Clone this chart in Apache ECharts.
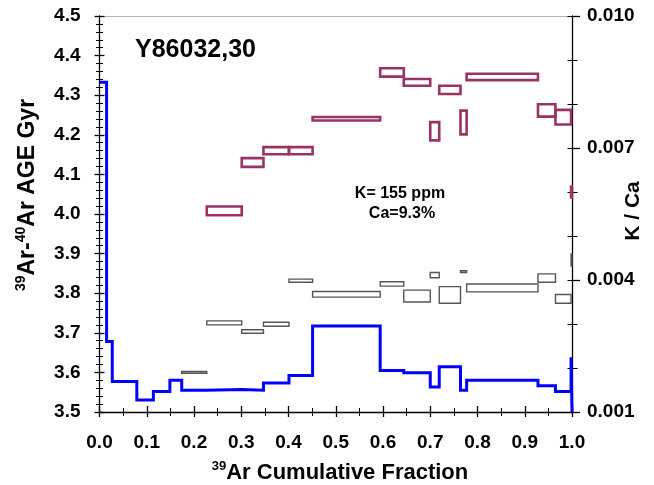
<!DOCTYPE html>
<html>
<head>
<meta charset="utf-8">
<title>Y86032,30 Ar-Ar age spectrum</title>
<script src="https://cdn.jsdelivr.net/npm/echarts@6/dist/echarts.min.js"></script>
<style>
  html, body { margin: 0; padding: 0; background: #fff; }
  #chart { width: 654px; height: 485px; }
</style>
</head>
<body>
<div id="chart"></div>
<script>
// Cumulative 39Ar fraction at the edge of each heating step
const fractionEdges = [0, 0.015, 0.027, 0.079, 0.114, 0.149, 0.174, 0.227, 0.301, 0.347, 0.401,
  0.451, 0.594, 0.644, 0.700, 0.719, 0.764, 0.777, 0.928, 0.965, 0.998, 1.0];

// 39Ar-40Ar apparent age of each step (Gyr)
const stepAge = [4.333, 3.678, 3.577, 3.530, 3.552, 3.580, 3.555, 3.557, 3.555, 3.573, 3.592,
  3.717, 3.605, 3.599, 3.563, 3.614, 3.555, 3.580, 3.566, 3.552, 3.638];

// Second age set, drawn as error boxes (Gyr): lower and upper bound per step
const boxAgeLow = [null, null, null, null, null, null, null, 3.997, 4.119, 4.151, 4.151,
  4.236, 4.347, 4.324, 4.186, 4.303, 4.201, 4.338, 4.246, 4.226, 4.042];
const boxAgeHigh = [null, null, null, null, null, null, null, 4.019, 4.141, 4.169, 4.169,
  4.245, 4.368, 4.341, 4.232, 4.324, 4.261, 4.354, 4.277, 4.263, 4.069];

// K/Ca ratio per step: lower and upper bound
const kcaLow = [null, null, null, null, null, null, 0.00188, 0.00298, 0.00279, 0.00295, 0.00395,
  0.00361, 0.00386, 0.00350, 0.00405, 0.00347, 0.00417, 0.00373, 0.00395, 0.00347, 0.00432];
const kcaHigh = [null, null, null, null, null, null, 0.00192, 0.00307, 0.00287, 0.00304, 0.00402,
  0.00374, 0.00396, 0.00377, 0.00417, 0.00385, 0.00421, 0.00391, 0.00414, 0.00367, 0.00459];

// Axis ranges and labelled ticks
const ageMin = 3.5, ageMax = 4.5, ageStep = 0.1;
const kcaMin = 0.001, kcaMax = 0.010, kcaMinorStep = 0.001;
const kcaTicks = [0.001, 0.004, 0.007, 0.010];

const FONT = 'Liberation Sans, Arial, Helvetica, sans-serif';

// Step-shaped age spectrum: each step is a flat segment across its fraction range,
// closed down to the axis floor after the last step
const spectrum = [];
stepAge.forEach((v, i) => {
  spectrum.push([fractionEdges[i], v]);
  spectrum.push([fractionEdges[i + 1], v]);
});
spectrum.push([fractionEdges[fractionEdges.length - 1], ageMin]);

function boxes(low, high) {
  const out = [];
  low.forEach((lo, i) => {
    if (lo == null) return;
    out.push([fractionEdges[i], fractionEdges[i + 1], lo, high[i]]);
  });
  return out;
}

function boxRenderer(color, width) {
  return function (params, api) {
    const a = api.coord([api.value(0), api.value(3)]);
    const b = api.coord([api.value(1), api.value(2)]);
    return {
      type: 'rect',
      shape: { x: a[0], y: a[1], width: b[0] - a[0], height: b[1] - a[1] },
      style: { fill: 'none', stroke: color, lineWidth: width }
    };
  };
}

const black = { color: '#000', width: 1.3 };
const noSplit = { show: false };

const chart = echarts.init(document.getElementById('chart'), null, { renderer: 'canvas' });
chart.setOption({
  animation: false,
  backgroundColor: '#fff',
  grid: { left: 99.5, right: 82, top: 16, bottom: 73, containLabel: false },
  xAxis: [
    {
      type: 'value', position: 'bottom', min: 0, max: 1, interval: 0.1,
      axisLine: { onZero: false, lineStyle: black },
      axisTick: { length: 5, lineStyle: black },
      minorTick: { show: true, splitNumber: 2, length: 4, lineStyle: { color: '#000', width: 1 } },
      splitLine: noSplit,
      axisLabel: { margin: 21, color: '#000', fontSize: 19, fontWeight: 'bold', fontFamily: FONT,
        formatter: v => v.toFixed(1) }
    },
    {
      type: 'value', position: 'bottom', min: 0, max: 1, interval: 0.1,
      axisLine: { show: false, onZero: false },
      axisTick: { inside: true, length: 6, lineStyle: black },
      minorTick: { show: true, splitNumber: 2, length: 4, lineStyle: { color: '#000', width: 1 } },
      splitLine: noSplit, axisLabel: { show: false }
    },
    {
      type: 'value', position: 'top', min: 0, max: 1,
      axisLine: { onZero: false, lineStyle: { color: '#b4b4b4', width: 1 } },
      axisTick: { show: false }, splitLine: noSplit, axisLabel: { show: false }
    }
  ],
  yAxis: [
    {
      type: 'value', position: 'left', min: ageMin, max: ageMax, interval: ageStep,
      axisLine: { onZero: false, lineStyle: black },
      axisTick: { length: 5, lineStyle: black },
      minorTick: { show: true, splitNumber: 5, length: 3.5, lineStyle: { color: '#000', width: 1 } },
      splitLine: noSplit,
      axisLabel: { margin: 19, color: '#000', fontSize: 19, fontWeight: 'bold', fontFamily: FONT,
        formatter: v => v.toFixed(1) }
    },
    {
      type: 'value', position: 'left', min: ageMin, max: ageMax, interval: ageStep,
      axisLine: { show: false, onZero: false },
      axisTick: { inside: true, length: 5, lineStyle: black },
      minorTick: { show: true, splitNumber: 5, length: 3.5, lineStyle: { color: '#000', width: 1 } },
      splitLine: noSplit, axisLabel: { show: false }
    },
    {
      type: 'value', position: 'right', min: kcaMin, max: kcaMax, interval: kcaMinorStep,
      axisLine: { onZero: false, lineStyle: black },
      axisTick: { length: 5.5, lineStyle: { color: '#000', width: 1 } },
      splitLine: noSplit, axisLabel: { show: false }
    },
    {
      type: 'value', position: 'right', min: kcaMin, max: kcaMax,
      axisLine: { show: false, onZero: false },
      axisTick: { length: 8, customValues: kcaTicks, lineStyle: black },
      splitLine: noSplit,
      axisLabel: { customValues: kcaTicks, margin: 15, color: '#000', fontSize: 19, fontWeight: 'bold',
        fontFamily: FONT, formatter: v => v.toFixed(3) }
    },
    {
      type: 'value', position: 'right', min: kcaMin, max: kcaMax, interval: kcaMinorStep,
      axisLine: { show: false, onZero: false },
      axisTick: { inside: true, length: 4.5, lineStyle: { color: '#000', width: 1 } },
      splitLine: noSplit, axisLabel: { show: false }
    }
  ],
  series: [
    {
      name: 'K/Ca', type: 'custom', xAxisIndex: 0, yAxisIndex: 2,
      renderItem: boxRenderer('#555555', 1.4),
      encode: { x: [0, 1], y: [2, 3] },
      data: boxes(kcaLow, kcaHigh), z: 3
    },
    {
      name: 'Age box', type: 'custom', xAxisIndex: 0, yAxisIndex: 0,
      renderItem: boxRenderer('#993366', 2.6),
      encode: { x: [0, 1], y: [2, 3] },
      data: boxes(boxAgeLow, boxAgeHigh), z: 4
    },
    {
      name: 'Age', type: 'line', xAxisIndex: 0, yAxisIndex: 0,
      data: spectrum, showSymbol: false, symbol: 'none', clip: false,
      lineStyle: { color: '#0000ff', width: 3, join: 'miter', cap: 'butt' },
      z: 5
    }
  ],
  graphic: [
    {
      type: 'text', x: 135, y: 50,
      style: { text: 'Y86032,30', fill: '#000', font: 'bold 25px ' + FONT, align: 'left', verticalAlign: 'middle' }
    },
    {
      type: 'text', x: 400, y: 194,
      style: { text: 'K= 155 ppm', fill: '#000', font: 'bold 16px ' + FONT, align: 'center', verticalAlign: 'middle' }
    },
    {
      type: 'text', x: 402, y: 214,
      style: { text: 'Ca=9.3%', fill: '#000', font: 'bold 16px ' + FONT, align: 'center', verticalAlign: 'middle' }
    },
    {
      type: 'text', x: 27, y: 195, rotation: Math.PI / 2,
      style: {
        text: '{s|39}{m|Ar-}{s|40}{m|Ar AGE Gyr}', fill: '#000', align: 'center', verticalAlign: 'middle',
        rich: {
          s: { fontSize: 14, fontWeight: 'bold', fontFamily: FONT, verticalAlign: 'top', lineHeight: 25 },
          m: { fontSize: 23, fontWeight: 'bold', fontFamily: FONT, verticalAlign: 'bottom', lineHeight: 25 }
        }
      }
    },
    {
      type: 'text', x: 340, y: 472,
      style: {
        text: '{s|39}{m|Ar Cumulative Fraction}', fill: '#000', align: 'center', verticalAlign: 'middle',
        rich: {
          s: { fontSize: 13, fontWeight: 'bold', fontFamily: FONT, verticalAlign: 'top', lineHeight: 24 },
          m: { fontSize: 22, fontWeight: 'bold', fontFamily: FONT, verticalAlign: 'bottom', lineHeight: 24 }
        }
      }
    },
    {
      type: 'text', x: 633, y: 211, rotation: Math.PI / 2,
      style: { text: 'K / Ca', fill: '#000', font: 'bold 21px ' + FONT, align: 'center', verticalAlign: 'middle' }
    }
  ]
});
</script>
</body>
</html>
